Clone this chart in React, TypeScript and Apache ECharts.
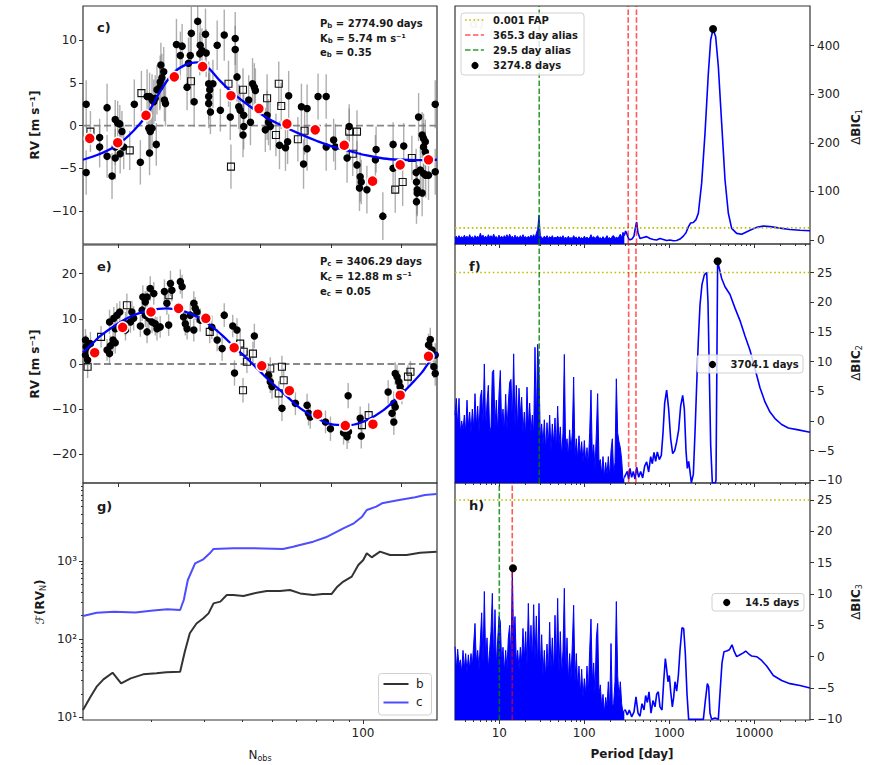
import React, { useEffect, useRef } from 'react';
import * as echarts from 'echarts';

const FONT = 'DejaVu Sans';
const BLUE = '#0000ff';

// ---------- panel c (planet b, phase folded) ----------
const phaseTicks = [0.1, 0.3, 0.5, 0.7, 0.9];
const rvTicksB = [-10, -5, 0, 5, 10];
const rvTicksC = [-20, -10, 0, 10, 20];
const rvRangeB = [-13.86, 14.0];
const rvRangeC = [-26.3, 26.3];

const rvBFilled = [
  [0.009, 2.5, 2.8], [0.009, -5.5, 2.6], [0.047, -1.4, 2.2], [0.047, -2.5, 2.4], [0.068, 2.1, 2.8], [0.068, -3.6, 2.5], [0.082, -5.9, 2.7], [0.091, 0.7, 2.3], [0.098, 0.3, 2.6], [0.104, 0.2, 2.2], [0.11, -0.7, 2.4], [0.091, -2.5, 2.1], [0.091, -3.8, 2.5], [0.105, -3.3, 2.3], [0.115, -2.5, 2.6],
  [0.145, 2.5, 2.9], [0.162, -4.3, 2.6], [0.181, 3.4, 3.2], [0.188, 3.4, 2.8], [0.195, 3.0, 3.0], [0.2, 2.8, 2.6], [0.204, 3.2, 2.7], [0.186, -0.3, 3.1], [0.19, -0.7, 2.8], [0.195, -0.3, 2.4], [0.188, -3.2, 2.6], [0.207, -2.2, 2.5],
  [0.209, 4.2, 2.9], [0.217, 4.5, 2.7], [0.218, 5.1, 3.1], [0.223, 5.6, 2.8], [0.22, 7.1, 2.6], [0.228, 6.3, 2.9], [0.23, 3.0, 2.5], [0.233, 2.6, 2.7],
  [0.264, 9.5, 3.0], [0.28, 9.3, 2.6], [0.275, 8.2, 2.8], [0.294, 4.5, 2.7], [0.298, 7.3, 3.0], [0.306, 10.8, 3.1], [0.303, 8.2, 2.5], [0.314, 2.8, 2.9], [0.324, 12.2, 2.9], [0.331, 9.4, 2.7], [0.336, 8.8, 2.6], [0.33, 8.4, 2.5], [0.346, 10.7, 3.0], [0.348, 8.5, 2.8],
  [0.355, 4.9, 2.6], [0.358, 4.2, 2.5], [0.355, 3.4, 2.7], [0.355, 2.6, 2.9], [0.36, 1.6, 2.6], [0.367, 4.9, 2.8], [0.379, 9.4, 2.9], [0.388, 1.8, 2.5], [0.399, 10.6, 3.0], [0.416, 1.0, 2.7], [0.43, 10.2, 3.1], [0.43, 8.9, 2.8], [0.435, 5.7, 2.9], [0.44, 2.2, 2.6], [0.444, 1.8, 2.8], [0.454, 1.2, 2.5], [0.454, -0.1, 2.7], [0.452, -1.1, 2.6],
  [0.468, 3.0, 2.9], [0.473, 0.4, 2.7], [0.479, 4.9, 3.0], [0.484, 4.5, 2.8], [0.487, 4.1, 2.6], [0.52, 1.2, 2.9], [0.524, 0.4, 2.7], [0.529, -0.1, 2.8], [0.515, -0.5, 2.6], [0.555, -2.3, 2.8], [0.572, -2.6, 2.7], [0.581, 3.5, 2.9], [0.578, -1.9, 2.6],
  [0.617, 2.2, 2.7], [0.623, -4.5, 2.9], [0.633, -2.7, 2.6], [0.633, 2.0, 2.8], [0.664, 3.4, 2.7], [0.687, 3.4, 2.6], [0.687, -2.5, 2.8], [0.708, -1.7, 2.5], [0.713, -2.5, 2.7], [0.752, -0.1, 2.6], [0.746, -3.8, 2.9], [0.774, -4.6, 2.8], [0.783, -6.0, 2.9], [0.786, -6.6, 2.6], [0.781, -7.3, 2.7], [0.802, -7.5, 2.8],
  [0.828, -2.8, 2.7], [0.826, -4.0, 2.9], [0.847, -10.6, 2.8], [0.876, -2.2, 2.6], [0.876, -5.0, 2.9], [0.906, -2.4, 2.7], [0.941, -5.5, 2.8], [0.942, -6.6, 2.6], [0.944, -7.5, 2.9], [0.944, -7.9, 2.7], [0.942, -8.9, 2.6], [0.948, 1.0, 2.8], [0.958, -1.1, 2.7], [0.962, -1.5, 2.9], [0.967, -1.9, 2.6], [0.962, -2.5, 2.8], [0.967, -3.1, 2.5], [0.953, -5.2, 2.7], [0.962, -5.6, 2.8], [0.968, -5.8, 2.6], [0.976, -5.8, 2.9], [0.958, -7.9, 2.7], [0.995, 2.5, 2.8], [0.995, -5.4, 2.7],
];
const rvBOpen = [
  [0.021, -0.7, 2.4], [0.132, -2.9, 2.3], [0.165, 3.8, 2.6], [0.305, 5.2, 2.8], [0.411, 4.9, 2.7], [0.418, -4.8, 2.6], [0.452, 4.2, 2.5], [0.52, 3.2, 2.8], [0.553, 4.9, 2.6], [0.56, 2.3, 2.7], [0.545, -1.1, 2.5], [0.607, -1.6, 2.6], [0.626, -0.6, 2.8], [0.752, -0.7, 2.7], [0.774, -0.7, 2.5], [0.762, -3.3, 2.6], [0.882, -7.5, 2.7], [0.903, -6.6, 2.8], [0.929, -3.8, 2.6],
];
const rvBBinned = [
  [0.019, -1.5], [0.098, -2.0], [0.178, 1.2], [0.258, 5.7], [0.338, 6.9], [0.418, 3.5], [0.497, 2.0], [0.576, 0.2], [0.656, -0.5], [0.738, -2.3], [0.818, -6.5], [0.896, -4.6], [0.976, -4.0],
];
const rvBModel = [
  [0, -4.0], [0.049, -3.3], [0.096, -2.3], [0.143, -0.6], [0.181, 1.3], [0.218, 4.0], [0.256, 6.2], [0.294, 7.2], [0.322, 7.4], [0.35, 6.9], [0.388, 5.2], [0.426, 3.7], [0.473, 2.2], [0.52, 0.9], [0.567, -0.1], [0.614, -1.0], [0.661, -1.8], [0.708, -2.5], [0.755, -3.0], [0.802, -3.5], [0.849, -3.85], [0.896, -4.0], [0.944, -4.05], [1, -4.0],
];

// ---------- panel e (planet c, phase folded) ----------
const rvCFilled = [
  [0.007, 5.3, 2.4], [0.009, 3.8, 2.6], [0.007, 2.0, 2.3], [0.013, 0.9, 2.5], [0.016, 3.1, 2.2], [0.021, 4.5, 2.6],
  [0.068, 3.1, 2.4], [0.075, 2.3, 2.5], [0.077, 4.0, 2.3], [0.085, 5.3, 2.6], [0.091, 4.7, 2.4], [0.075, 9.3, 2.7], [0.087, 10.1, 2.5], [0.096, 10.8, 2.6], [0.104, 11.5, 2.4], [0.091, 7.8, 2.5],
  [0.12, 8.9, 2.6], [0.134, 9.3, 2.4], [0.143, 10.1, 2.7], [0.138, 11.5, 2.5], [0.12, 7.5, 2.3],
  [0.169, 14.8, 2.6], [0.176, 13.7, 2.4], [0.181, 14.8, 2.5], [0.19, 16.7, 2.7], [0.2, 15.6, 2.5], [0.167, 11.9, 2.4], [0.176, 10.8, 2.6], [0.186, 10.1, 2.3], [0.195, 9.3, 2.5], [0.204, 8.9, 2.6], [0.162, 8.4, 2.4], [0.181, 7.1, 2.5], [0.209, 7.8, 2.6], [0.218, 8.2, 2.4],
  [0.23, 16.0, 2.7], [0.237, 13.4, 2.5], [0.247, 17.8, 2.8], [0.251, 16.3, 2.5], [0.275, 18.2, 2.7], [0.28, 17.1, 2.6], [0.242, 8.6, 2.4],
  [0.284, 10.4, 2.5], [0.289, 8.9, 2.6], [0.294, 7.8, 2.4], [0.303, 10.8, 2.5], [0.313, 13.4, 2.7], [0.317, 12.3, 2.5], [0.322, 11.5, 2.4], [0.331, 9.7, 2.6], [0.313, 7.5, 2.5],
  [0.364, 8.1, 2.6], [0.379, 5.3, 2.5], [0.393, 3.4, 2.7], [0.399, 10.8, 2.6], [0.423, 8.4, 2.5], [0.435, 7.5, 2.6], [0.428, -2.0, 2.8], [0.484, 6.2, 2.7],
  [0.524, -2.5, 2.6], [0.529, -3.9, 2.5], [0.534, -5.0, 2.7], [0.562, -9.8, 2.8], [0.6, -8.7, 2.6], [0.633, -9.1, 2.5], [0.637, -10.9, 2.7], [0.642, -11.7, 2.6], [0.685, -12.8, 2.5], [0.699, -14.3, 2.7],
  [0.749, -7.0, 2.8], [0.736, -15.2, 2.6], [0.746, -16.1, 2.7], [0.75, -15.0, 2.5], [0.783, -12.0, 2.6], [0.786, -15.9, 2.8],
  [0.862, -6.2, 2.6], [0.882, -2.1, 2.5], [0.887, -2.8, 2.7], [0.892, -3.9, 2.6], [0.896, -5.0, 2.5], [0.901, -6.2, 2.7], [0.878, -8.7, 2.6], [0.882, -9.5, 2.8], [0.873, -10.9, 2.7], [0.878, -12.8, 2.9],
  [0.981, 5.4, 2.6], [0.976, 4.2, 2.5], [0.986, 3.1, 2.7], [0.995, 2.0, 2.6], [0.991, -0.6, 2.5], [0.995, -2.1, 2.7],
];
const rvCOpen = [
  [0.013, -0.6, 2.5], [0.051, 6.0, 2.4], [0.124, 13.0, 2.6], [0.242, 15.2, 2.7], [0.358, 7.1, 2.5], [0.444, 4.5, 2.6], [0.454, 2.7, 2.4], [0.463, 0.5, 2.5], [0.452, -5.8, 2.7], [0.48, 2.3, 2.6], [0.529, -1.0, 2.5], [0.562, -0.6, 2.4], [0.567, -3.6, 2.6], [0.553, -6.5, 2.7], [0.788, -13.5, 2.5], [0.807, -11.3, 2.6], [0.925, -1.7, 2.4], [0.918, -2.8, 2.5],
];
const rvCBinned = [
  [0.033, 2.5], [0.112, 8.1], [0.192, 11.5], [0.27, 12.3], [0.347, 10.1], [0.427, 3.6], [0.505, -0.4], [0.583, -5.9], [0.663, -11.1], [0.741, -13.6], [0.819, -13.3], [0.896, -6.9], [0.976, 1.7],
];
const rvCModel = [
  [0, 2.6], [0.025, 4.4], [0.049, 6.2], [0.096, 8.8], [0.143, 10.8], [0.19, 11.9], [0.237, 12.3], [0.284, 11.7], [0.331, 10.1], [0.379, 7.3], [0.426, 3.9], [0.473, 0.5], [0.52, -3.2], [0.567, -6.5], [0.614, -9.8], [0.661, -12.0], [0.708, -13.4], [0.755, -13.5], [0.802, -12.4], [0.849, -10.2], [0.896, -6.9], [0.929, -4.3], [0.958, -1.8], [0.976, 0.2], [1, 2.4],
];

// ---------- panel g : F(RV_N) vs N_obs ----------
const nRange = [11.9, 175.5];
const fRange = [9.26, 9940];
const nMajor = [100];
const nMinor = [20, 30, 40, 50, 60, 70, 80, 90];
const fMajor = [10, 100, 1000];
const fMinor = [20, 30, 40, 50, 60, 70, 80, 90, 200, 300, 400, 500, 600, 700, 800, 900, 2000, 3000, 4000, 5000, 6000, 7000, 8000, 9000];
const fB = [
  [11.9, 12.4], [12.6, 18.4], [13.2, 24.7], [13.9, 30.6], [14.9, 37.3], [15.9, 27.2], [17.1, 31.5], [18.8, 35.5], [20.8, 36.6], [22.4, 37.7], [24.9, 38.4], [25.8, 69], [26.8, 119], [28.2, 159], [29.7, 185], [30.9, 214], [32.1, 287], [33.8, 302], [35.5, 367], [37.3, 367], [40.3, 357], [43.5, 385], [48.1, 413], [53.2, 413], [57.4, 426], [62, 385], [68.5, 367], [73.6, 379], [78.8, 379], [81.9, 460], [86.1, 545], [91.8, 631], [96.5, 889], [100.2, 1030], [102.9, 1254], [106.8, 1114], [113.8, 1316], [122.8, 1194], [139.3, 1194], [154.3, 1278], [175, 1316],
];
const fC = [
  [11.9, 198], [13.2, 218], [15.1, 225], [17.7, 220], [20.3, 232], [22.6, 241], [24.9, 236], [25.6, 317], [26.4, 571], [27.9, 933], [29.7, 1050], [31.2, 1254], [32.1, 1426], [37.3, 1453], [43.5, 1453], [54.4, 1426], [58.8, 1525], [61.9, 1603], [68.5, 1767], [75.4, 2009], [86.1, 2618], [93.3, 3035], [99.3, 3690], [102.9, 4490], [110.6, 4950], [115.5, 5470], [131.6, 6030], [148.7, 6520], [160, 6980], [175, 7195],
];

// ---------- periodograms (d, f, h) ----------
const periodRange = [3.012, 45220];
const pMajor = [10, 100, 1000, 10000];
const pMinor = [4, 5, 6, 7, 8, 9, 20, 30, 40, 50, 60, 70, 80, 90, 200, 300, 400, 500, 600, 700, 800, 900, 2000, 3000, 4000, 5000, 6000, 7000, 8000, 9000, 20000, 30000, 40000];
const bic1Ticks = [0, 100, 200, 300, 400];
const bicTicks = [-10, -5, 0, 5, 10, 15, 20, 25];
const bic1Range = [-8.2, 481.5];
const bic2Range = [-10.45, 29.8];
const bic3Range = [-10.1, 27.7];
const fapLevel = 25;

const densePeriods = [
  3.012, 3.123, 3.238, 3.357, 3.48, 3.608, 3.741, 3.879, 4.021, 4.169,
  4.322, 4.481, 4.646, 4.817, 4.994, 5.178, 5.368, 5.566, 5.77, 5.983,
  6.203, 6.431, 6.667, 6.912, 7.167, 7.43, 7.703, 7.987, 8.28, 8.585,
  8.9, 9.228, 9.567, 9.919, 10.28, 10.66, 11.05, 11.46, 11.88, 12.32,
  12.77, 13.24, 13.73, 14.23, 14.76, 15.3, 15.86, 16.45, 17.05, 17.68,
  18.33, 19.0, 19.7, 20.43, 21.18, 21.96, 22.76, 23.6, 24.47, 25.37,
  26.3, 27.27, 28.27, 29.31, 30.39, 31.51, 32.66, 33.87, 35.11, 36.4,
  37.75, 39.13, 40.57, 42.06, 43.61, 45.22, 46.88, 48.61, 50.39, 52.24,
  54.17, 56.16, 58.22, 60.37, 62.59, 64.89, 67.27, 69.74, 72.31, 74.97,
  77.73, 80.58, 83.55, 86.61, 89.8, 93.11, 96.54, 100.1, 103.8, 107.6,
  111.5, 115.6, 119.9, 124.3, 128.9, 133.6, 138.6, 143.6, 148.9, 154.4,
  160.1, 166.0, 172.1, 178.4, 185.0, 191.8, 198.8, 206.2, 213.7, 221.6,
  229.7, 238.2, 246.9, 256.0, 265.5, 275.2, 285.3, 295.8,
];
const bic1Dense = [
  5, 8, 3, 9, 4, 7, 3, 10, 4, 8,
  3, 11, 4, 7, 3, 9, 5, 8, 4, 14,
  6, 10, 4, 8, 3, 11, 5, 9, 4, 12,
  5, 7, 3, 10, 4, 8, 3, 9, 5, 11,
  4, 12, 5, 8, 3, 10, 5, 7, 3, 9,
  4, 11, 5, 7, 3, 8, 4, 10, 5, 11,
  4, 14, 22, 51, 9, 5, 3, 8, 4, 9,
  3, 7, 4, 9, 3, 6, 4, 8, 3, 7,
  4, 9, 3, 6, 2, 8, 3, 5, 3, 9,
  4, 6, 2, 7, 3, 5, 2, 8, 3, 6,
  3, 5, 11, 4, 7, 3, 6, 9, 3, 5,
  2, 7, 3, 4, 9, 3, 5, 2, 8, 9,
  3, 6, 4, 7, 12, 5, 16, 9,
];
const bic2Dense = [
  1.0, 3.8, -1.0, 3.8, -2.0, 0.0, -1.5, 1.0, -2.0, 3.5,
  -1.0, 1.5, -2.0, 2.0, -1.5, 4.6, -1.0, 2.5, -2.0, 4.0,
  5.2, -0.5, 9.6, -1.5, 3.0, 6.0, -2.0, -1.0, 8.2, 8.6,
  -1.0, 3.5, -2.0, 4.5, 8.5, -1.0, 2.0, -2.0, 4.5, -1.5,
  3.0, 6.5, 7.0, -0.5, 11.3, -1.0, 6.0, -1.5, 5.5, 1.0,
  4.0, -2.0, 1.5, -2.5, 5.7, -1.0, 3.0, -2.0, 1.0, -2.5,
  12.4, -1.0, 12.9, 8.0, -3.0, -0.5, -4.0, 0.2, -5.0, -0.3,
  -4.0, 1.0, -5.0, -0.5, -4.0, 0.5, -5.0, 2.5, -4.0, -1.0,
  -6.0, -2.0, 11.2, -5.0, -3.0, -6.0, -1.5, -5.0, -2.0, 7.4,
  -6.0, -3.0, -6.5, -2.5, -6.0, -3.5, -7.0, -3.3, -7.0, -4.5,
  -7.5, -2.0, 5.2, -6.0, -4.0, -8.0, -2.0, 4.6, -7.0, -6.5,
  -9.0, -6.0, -9.5, -7.0, -9.0, -6.0, -9.5, -5.0, -3.0, -9.0,
  -7.0, 7.1, -2.0, -3.5, -4.5, -6.5, -10.0, -9.5,
];
const bic3Dense = [
  1.6, -2.0, 1.2, -1.5, -0.5, -2.5, 1.0, -2.0, 0.5, -2.5,
  0.3, -2.0, 0.5, -1.5, 2.0, 5.3, -1.0, 1.0, -2.0, 2.5,
  7.0, -1.0, 10.4, -0.5, 3.0, -2.0, 1.0, 4.0, 10.1, -1.0,
  7.5, -1.5, 2.5, 6.4, 5.6, -1.0, 1.5, -2.5, 1.0, -2.0,
  3.0, 5.0, -1.0, 14.1, 2.0, 6.4, -1.0, 1.0, -2.0, 1.5,
  -1.0, 4.5, -0.5, 4.0, -1.5, 8.5, 0.0, 5.0, -1.0, 8.3,
  -0.5, 6.5, -2.0, 8.5, -2.0, 3.5, -3.0, 1.0, -3.5, 2.0,
  -3.0, 5.5, -2.0, 3.0, -3.0, 6.6, -2.0, 9.3, -2.5, 4.0,
  -3.0, 1.0, 10.9, -3.0, 3.0, -4.0, 0.5, -3.5, 2.0, 8.2,
  -4.0, 0.5, -5.0, -1.5, -6.0, -2.0, -6.5, -3.5, -6.0, -1.5,
  -6.0, 1.0, 6.0, -4.0, -1.0, -6.0, 3.0, 5.3, -6.0, -4.5,
  -8.0, -6.0, -9.0, -6.5, -8.0, -4.0, -8.5, 2.1, -8.0, -7.5,
  -4.0, 8.8, -3.0, -6.5, -4.0, -7.5, -9.0, -8.5,
];
const bic1Tail = [
  [306, 18.5], [321, 10], [333, 2], [345, 0.5], [364, 2], [384, 8], [399, 25], [413, 37], [428, 15], [452, 3], [495, 5], [542, 7], [593, 3], [649, 1], [710, 0], [777, 3], [851, 1], [931, -1], [1019, 0], [1116, -1.5], [1221, -1], [1336, 2], [1463, 8], [1572, 15], [1675, 27], [1784, 35], [1918, 36], [2061, 42], [2196, 55], [2403, 117], [2632, 220], [2880, 343], [3070, 412], [3274.8, 434], [3512, 418], [3775, 357], [4132, 240], [4522, 124], [4950, 55], [5418, 24], [6203, 13.7], [7103, 11.7], [8903, 20], [10660, 26], [12770, 28.8], [15300, 27.5], [20060, 24.5], [26300, 21.5], [34480, 20], [45220, 19],
];
const bic2Tail = [
  [301.2, -9.5], [320.8, -8.5], [332.6, -9.8], [344.8, -8.0], [360.7, -9.5], [377.5, -8.5], [394.9, -9.8], [413.2, -7.8], [436.2, -9.5], [460.4, -8.5], [486.1, -9.6], [513.1, -7.6], [541.7, -6.9], [571.9, -8.6], [603.8, -6.0], [631.6, -7.2], [660.8, -5.3], [691, -6.8], [722.9, -5.2], [763.1, -6.5], [805.6, -5.8], [843.3, -2.0], [882.3, 3.0], [931, 5.2], [982.8, 2.0], [1037.5, -3.0], [1096, -5.5], [1157, -5.0], [1221, -3.5], [1289, -1.5], [1360, 2.5], [1437, 4.3], [1503, 2.0], [1572, -5.0], [1630, -8.0], [1690, -6.8], [1752, -8.5], [1816, -10.4], [1918, -9.0], [2006, -2.0], [2099, 6.0], [2196, 13.6], [2297, 19.5], [2425, 23.0], [2584, 24.6], [2752, 25.0], [2853, 20.0], [2958, 8.0], [3067, -4.0], [3208, -10.4], [3480, -10.4], [3543, -10.0], [3640, 12], [3704.1, 26.9], [4131, 24.0], [4522, 22.6], [5178, 21.3], [5929, 19.0], [6789, 16.9], [7774, 14.3], [8903, 11.9], [10190, 8.8], [11667, 5.6], [13360, 3.2], [15300, 1.5], [17524, 0.4], [20990, -0.6], [25138, -1.2], [32960, -1.5], [45220, -1.9],
];
const bic3Tail = [
  [303.9, -8.5], [320.8, -9.3], [338.6, -8.5], [360.7, -9.6], [384.4, -8.8], [405.8, -6.4], [428.4, -9.0], [452.2, -9.5], [477.3, -7.5], [503.9, -8.5], [527.2, -6.2], [551.6, -7.3], [577.1, -5.6], [609.3, -9.0], [643.2, -7.0], [678.9, -8.0], [710, -6.0], [742.8, -5.6], [777, -8.0], [820.3, -8.5], [858.7, -4.0], [898.6, -0.3], [931, -2.0], [965.3, -4.0], [1000.8, -3.0], [1037.5, -5.5], [1086, -8.0], [1126, -6.5], [1167, -4.0], [1221, -5.5], [1278, -3.0], [1336, 1.0], [1410, 4.6], [1476, 4.5], [1544, 0.5], [1616, -6.0], [1690, -10.0], [1918, -10.0], [2297, -10.0], [2515, -10.0], [2655, -7.0], [2803, -4.3], [2905, -4.8], [3012, -9.0], [3150, -10.0], [3447, -9.8], [3774, -10.0], [3985, -5.0], [4169, -1.0], [4401, 0.8], [4731, 0.9], [5085, 1.1], [5466, 1.9], [5823, 0.8], [6203, 0.0], [6789, 0.3], [7431, 0.6], [7915, 0.9], [8510, 0.5], [9314, 0.1], [10660, 0.0], [12207, -0.6], [13980, -1.5], [16750, -3.0], [20990, -3.8], [26300, -4.3], [34480, -4.6], [45220, -5.0],
];
const peak1 = [3274.8, 434];
const peak2 = [3704.1, 26.9];
const peak3 = [14.5, 14.1];
const greenAlias1 = [29.5];
const redAlias1 = [328.6, 411.2];
const greenAlias2 = [29.5];
const redAlias2 = [332.5, 405.3];
const greenAlias3 = [10.0];
const redAlias3 = [14.2];

// ---------- helpers ----------
const lg = (v: number) => Math.log10(v);
const minus = (v: number) => (v < 0 ? '\u2212' + Math.abs(v) : String(v));
const SUP: Record<number, string> = { 1: '\u00b9', 2: '\u00b2', 3: '\u00b3', 4: '\u2074' };
const TXT = '#1a1a1a';
const labelStyle = { color: '#222', fontFamily: FONT, fontSize: 12 };
const tickLine = { color: '#333', width: 1 };
const RED = 'rgba(255,0,0,0.65)';
const GREEN = 'rgba(0,128,0,0.8)';
const YELLOW = '#bfbf00';

function axis(gridIndex: number, min: number, max: number, extra: any) {
  return {
    type: 'value', gridIndex, min, max, scale: true,
    axisLine: { show: false, onZero: false },
    splitLine: { show: false },
    ...extra,
  };
}

function errorBars(data: number[][], xi: number, yi: number) {
  return {
    type: 'custom', xAxisIndex: xi, yAxisIndex: yi, data, z: 2, silent: true,
    encode: { x: 0, y: 1 },
    renderItem: (params: any, api: any) => {
      const x = api.value(0), y = api.value(1), e = api.value(2);
      const a = api.coord([x, y - e]);
      const b = api.coord([x, y + e]);
      const cs = params.coordSys;
      const clamp = (v: number) => Math.max(cs.y, Math.min(cs.y + cs.height, v));
      return {
        type: 'line',
        shape: { x1: a[0], y1: clamp(a[1]), x2: b[0], y2: clamp(b[1]) },
        style: { stroke: 'rgba(120,120,120,0.6)', lineWidth: 1.4 },
      };
    },
  };
}

function rvSeries(filled: number[][], open: number[][], binned: number[][], model: number[][], xi: number, yi: number) {
  return [
    { type: 'line', xAxisIndex: xi, yAxisIndex: yi, data: [[0, 0], [1, 0]], symbol: 'none', z: 1, silent: true,
      lineStyle: { color: '#888', width: 1.8, type: [7, 3.5] } },
    errorBars(filled, xi, yi),
    errorBars(open, xi, yi),
    { type: 'scatter', xAxisIndex: xi, yAxisIndex: yi, data: open, symbol: 'rect', symbolSize: 7, z: 3, silent: true,
      itemStyle: { color: 'rgba(255,255,255,0)', borderColor: '#111', borderWidth: 1.1, opacity: 1 } },
    { type: 'scatter', xAxisIndex: xi, yAxisIndex: yi, data: filled, symbol: 'circle', symbolSize: 7.5, z: 3, silent: true,
      itemStyle: { color: '#000', opacity: 1 } },
    { type: 'line', xAxisIndex: xi, yAxisIndex: yi, data: model, symbol: 'none', smooth: 0.35, z: 4, silent: true,
      lineStyle: { color: BLUE, width: 2.3 } },
    { type: 'scatter', xAxisIndex: xi, yAxisIndex: yi, data: binned, symbol: 'circle', symbolSize: 11, z: 5, silent: true,
      itemStyle: { color: '#ff0000', borderColor: '#fff', borderWidth: 1.5, opacity: 1 } },
  ];
}

function periodSeries(dense: number[], tail: number[][], peak: number[], greens: number[], reds: number[], yr: number[], xi: number, yi: number) {
  const denseData = densePeriods.map((p, i) => [lg(p), dense[i]]);
  const tailData = [[lg(densePeriods[densePeriods.length - 1]), dense[dense.length - 1]], ...tail.map(([p, v]) => [lg(p), v])];
  const out: any[] = [
    { type: 'line', xAxisIndex: xi, yAxisIndex: yi, data: denseData, symbol: 'none', z: 3, silent: true,
      lineStyle: { color: BLUE, width: 1 }, areaStyle: { color: BLUE, opacity: 1, origin: 'start' } },
    { type: 'line', xAxisIndex: xi, yAxisIndex: yi, data: tailData, symbol: 'none', z: 3, silent: true,
      lineStyle: { color: BLUE, width: 1.6 } },
    { type: 'line', xAxisIndex: xi, yAxisIndex: yi, data: [[lg(periodRange[0]), fapLevel], [lg(periodRange[1]), fapLevel]], symbol: 'none', z: 4, silent: true,
      lineStyle: { color: YELLOW, width: 1.6, type: [1.6, 2.6] } },
  ];
  greens.forEach((p) => out.push({ type: 'line', xAxisIndex: xi, yAxisIndex: yi, data: [[lg(p), yr[0]], [lg(p), yr[1]]], symbol: 'none', z: 4, silent: true,
    lineStyle: { color: GREEN, width: 1.6, type: [5.5, 2.4] } }));
  reds.forEach((p) => out.push({ type: 'line', xAxisIndex: xi, yAxisIndex: yi, data: [[lg(p), yr[0]], [lg(p), yr[1]]], symbol: 'none', z: 4, silent: true,
    lineStyle: { color: RED, width: 1.6, type: [5.5, 2.4] } }));
  out.push({ type: 'scatter', xAxisIndex: xi, yAxisIndex: yi, data: [[lg(peak[0]), peak[1]]], symbol: 'circle', symbolSize: 8, z: 6, silent: true,
    itemStyle: { color: '#000', opacity: 1 } });
  return out;
}

function periodXAxes(gridIndex: number, showLabels: boolean) {
  const r = [lg(periodRange[0]), lg(periodRange[1])];
  return [
    axis(gridIndex, r[0], r[1], {
      position: 'bottom',
      axisTick: { show: true, length: 4, customValues: pMajor.map(lg), lineStyle: tickLine },
      axisLabel: showLabels
        ? { show: true, customValues: pMajor.map(lg), margin: 7, formatter: (v: number) => String(Math.round(Math.pow(10, v))), ...labelStyle }
        : { show: false },
    }),
    axis(gridIndex, r[0], r[1], {
      position: 'bottom',
      axisTick: { show: true, length: 2, customValues: pMinor.map(lg), lineStyle: tickLine },
      axisLabel: { show: false },
    }),
  ];
}

function rightYAxis(gridIndex: number, range: number[], ticks: number[]) {
  return axis(gridIndex, range[0], range[1], {
    position: 'right',
    axisTick: { show: true, length: 4, customValues: ticks, lineStyle: tickLine },
    axisLabel: { show: true, customValues: ticks, margin: 7, formatter: minus, ...labelStyle },
  });
}

// text helpers for graphic
const bold = (size: number) => ({ fill: TXT, fontFamily: FONT, fontWeight: 'bold', fontSize: size });
function richText(x: number, y: number, text: string, rich: any, extra: any = {}) {
  return { type: 'text', x, y, z: 100, silent: true, ...extra,
    style: { text, rich, align: extra.align || 'left', verticalAlign: 'middle', fill: TXT, fontFamily: FONT } };
}
const annRich = {
  n: { ...bold(10), lineHeight: 12 },
  s: { ...bold(7), lineHeight: 7, verticalAlign: 'bottom' },
};

function buildOption() {
  const grids = [
    { left: 83, top: 6, width: 354, height: 238 },
    { left: 83, top: 245, width: 354, height: 238 },
    { left: 83, top: 483, width: 354, height: 237 },
    { left: 455, top: 6, width: 355, height: 238 },
    { left: 455, top: 244, width: 355, height: 239 },
    { left: 455, top: 483, width: 355, height: 237 },
  ].map((g) => ({ ...g, show: true, borderColor: '#333', borderWidth: 1.2, backgroundColor: 'rgba(0,0,0,0)', containLabel: false, outerBoundsMode: 'none' }));

  const phaseAxis = (gi: number) => axis(gi, 0, 1, {
    position: 'bottom',
    axisTick: { show: true, length: 4, customValues: phaseTicks, lineStyle: tickLine },
    axisLabel: { show: false },
  });

  const xAxis = [
    phaseAxis(0), // 0
    phaseAxis(1), // 1
    axis(2, lg(nRange[0]), lg(nRange[1]), { // 2
      position: 'bottom',
      axisTick: { show: true, length: 4, customValues: nMajor.map(lg), lineStyle: tickLine },
      axisLabel: { show: true, customValues: nMajor.map(lg), margin: 7, formatter: (v: number) => String(Math.round(Math.pow(10, v))), ...labelStyle },
    }),
    axis(2, lg(nRange[0]), lg(nRange[1]), { // 3
      position: 'bottom',
      axisTick: { show: true, length: 2, customValues: nMinor.map(lg), lineStyle: tickLine },
      axisLabel: { show: false },
    }),
    ...periodXAxes(3, false), // 4,5
    ...periodXAxes(4, false), // 6,7
    ...periodXAxes(5, true), // 8,9
  ];

  const yAxis = [
    axis(0, rvRangeB[0], rvRangeB[1], { // 0
      position: 'left',
      axisTick: { show: true, length: 4, customValues: rvTicksB, lineStyle: tickLine },
      axisLabel: { show: true, customValues: rvTicksB, margin: 6, formatter: minus, ...labelStyle },
    }),
    axis(1, rvRangeC[0], rvRangeC[1], { // 1
      position: 'left',
      axisTick: { show: true, length: 4, customValues: rvTicksC, lineStyle: tickLine },
      axisLabel: { show: true, customValues: rvTicksC, margin: 6, formatter: minus, ...labelStyle },
    }),
    axis(2, lg(fRange[0]), lg(fRange[1]), { // 2
      position: 'left',
      axisTick: { show: true, length: 4, customValues: fMajor.map(lg), lineStyle: tickLine },
      axisLabel: { show: true, customValues: fMajor.map(lg), margin: 6, formatter: (v: number) => '10' + SUP[Math.round(v)], ...labelStyle },
    }),
    axis(2, lg(fRange[0]), lg(fRange[1]), { // 3
      position: 'left',
      axisTick: { show: true, length: 2, customValues: fMinor.map(lg), lineStyle: tickLine },
      axisLabel: { show: false },
    }),
    rightYAxis(3, bic1Range, bic1Ticks), // 4
    rightYAxis(4, bic2Range, bicTicks), // 5
    rightYAxis(5, bic3Range, bicTicks), // 6
  ];

  const series: any[] = [
    ...rvSeries(rvBFilled, rvBOpen, rvBBinned, rvBModel, 0, 0),
    ...rvSeries(rvCFilled, rvCOpen, rvCBinned, rvCModel, 1, 1),
    { type: 'line', xAxisIndex: 2, yAxisIndex: 2, data: fB.map(([n, f]) => [lg(n), lg(f)]), symbol: 'none', silent: true, z: 3,
      lineStyle: { color: '#333333', width: 2 } },
    { type: 'line', xAxisIndex: 2, yAxisIndex: 2, data: fC.map(([n, f]) => [lg(n), lg(f)]), symbol: 'none', silent: true, z: 3,
      lineStyle: { color: '#4d4dff', width: 2 } },
    ...periodSeries(bic1Dense, bic1Tail, peak1, greenAlias1, redAlias1, bic1Range, 4, 4),
    ...periodSeries(bic2Dense, bic2Tail, peak2, greenAlias2, redAlias2, bic2Range, 6, 5),
    ...periodSeries(bic3Dense, bic3Tail, peak3, greenAlias3, redAlias3, bic3Range, 8, 6),
  ];

  const rot = Math.PI / 2;
  const graphic: any[] = [
    // panel letters
    { type: 'text', x: 97, y: 27, z: 100, silent: true, style: { text: 'c)', ...bold(13), verticalAlign: 'middle' } },
    { type: 'text', x: 97, y: 266, z: 100, silent: true, style: { text: 'e)', ...bold(13), verticalAlign: 'middle' } },
    { type: 'text', x: 97, y: 506, z: 100, silent: true, style: { text: 'g)', ...bold(13), verticalAlign: 'middle' } },
    { type: 'text', x: 469, y: 23, z: 100, silent: true, style: { text: 'd)', ...bold(13), fill: '#cfcfcf', verticalAlign: 'middle' } },
    { type: 'text', x: 469, y: 266, z: 100, silent: true, style: { text: 'f)', ...bold(13), verticalAlign: 'middle' } },
    { type: 'text', x: 469, y: 505, z: 100, silent: true, style: { text: 'h)', ...bold(13), verticalAlign: 'middle' } },

    // annotations c
    richText(320, 23, '{n|P}{s|b}{n| = 2774.90 days}', annRich),
    richText(320, 38, '{n|K}{s|b}{n| = 5.74 m s\u207b\u00b9}', annRich),
    richText(320, 52.5, '{n|e}{s|b}{n| = 0.35}', annRich),
    // annotations e
    richText(320, 261, '{n|P}{s|c}{n| = 3406.29 days}', annRich),
    richText(320, 276, '{n|K}{s|c}{n| = 12.88 m s\u207b\u00b9}', annRich),
    richText(320, 291, '{n|e}{s|c}{n| = 0.05}', annRich),

    // y axis names left
    { type: 'text', x: 35, y: 125, rotation: rot, z: 100, silent: true,
      style: { text: 'RV [m s\u207b\u00b9]', ...bold(12), align: 'center', verticalAlign: 'middle' } },
    { type: 'text', x: 35, y: 364, rotation: rot, z: 100, silent: true,
      style: { text: 'RV [m s\u207b\u00b9]', ...bold(12), align: 'center', verticalAlign: 'middle' } },
    { type: 'text', x: 40, y: 602, rotation: rot, z: 100, silent: true,
      style: { text: '{f|\u2131}{b|(RV}{s|N}{b|)}', align: 'center', verticalAlign: 'middle',
        rich: { f: { fill: TXT, fontFamily: FONT, fontSize: 12, lineHeight: 14 }, b: { ...bold(12), lineHeight: 14 }, s: { fill: TXT, fontFamily: FONT, fontSize: 8, lineHeight: 8, verticalAlign: 'bottom' } } } },

    // right axis names
    ...[[127, '1'], [363, '2'], [602, '3']].map(([y, k]) => ({
      type: 'text', x: 856, y, rotation: rot, z: 100, silent: true,
      style: { text: '{d|\u0394}{b|BIC}{s|' + k + '}', align: 'center', verticalAlign: 'middle',
        rich: { d: { fill: TXT, fontFamily: FONT, fontSize: 12, lineHeight: 14 }, b: { ...bold(12), lineHeight: 14 }, s: { fill: TXT, fontFamily: FONT, fontSize: 8, lineHeight: 8, verticalAlign: 'bottom' } } },
    })),

    // x axis names
    { type: 'text', x: 260, y: 755, z: 100, silent: true,
      style: { text: '{n|N}{s|obs}', align: 'center', verticalAlign: 'middle',
        rich: { n: { fill: TXT, fontFamily: FONT, fontSize: 12, lineHeight: 14 }, s: { fill: TXT, fontFamily: FONT, fontSize: 8, lineHeight: 8, verticalAlign: 'bottom' } } } },
    { type: 'text', x: 632, y: 754, z: 100, silent: true,
      style: { text: 'Period [day]', ...bold(12), align: 'center', verticalAlign: 'middle' } },

    // legend d
    { type: 'rect', z: 100, silent: true, shape: { x: 461, y: 13, width: 123, height: 62, r: 3 },
      style: { fill: 'rgba(255,255,255,0.8)', stroke: '#d0d0d0', lineWidth: 1 } },
    { type: 'line', z: 101, silent: true, shape: { x1: 465, y1: 20, x2: 484, y2: 20 }, style: { stroke: YELLOW, lineWidth: 1.6, lineDash: [1.6, 2.6] } },
    { type: 'line', z: 101, silent: true, shape: { x1: 465, y1: 35, x2: 484, y2: 35 }, style: { stroke: RED, lineWidth: 1.6, lineDash: [5.5, 2.4] } },
    { type: 'line', z: 101, silent: true, shape: { x1: 465, y1: 50, x2: 484, y2: 50 }, style: { stroke: GREEN, lineWidth: 1.6, lineDash: [5.5, 2.4] } },
    { type: 'circle', z: 101, silent: true, shape: { cx: 475, cy: 65.5, r: 3.6 }, style: { fill: '#000' } },
    { type: 'text', x: 493, y: 20, z: 101, silent: true, style: { text: '0.001 FAP', ...bold(10), verticalAlign: 'middle' } },
    { type: 'text', x: 493, y: 35, z: 101, silent: true, style: { text: '365.3 day alias', ...bold(10), verticalAlign: 'middle' } },
    { type: 'text', x: 493, y: 50, z: 101, silent: true, style: { text: '29.5 day alias', ...bold(10), verticalAlign: 'middle' } },
    { type: 'text', x: 493, y: 65.5, z: 101, silent: true, style: { text: '3274.8 days', ...bold(10), verticalAlign: 'middle' } },

    // legend f
    { type: 'rect', z: 100, silent: true, shape: { x: 697, y: 355, width: 106, height: 18, r: 3 },
      style: { fill: 'rgba(255,255,255,0.8)', stroke: '#d0d0d0', lineWidth: 1 } },
    { type: 'circle', z: 101, silent: true, shape: { cx: 712.5, cy: 364.5, r: 3.6 }, style: { fill: '#000' } },
    { type: 'text', x: 730.5, y: 364.5, z: 101, silent: true, style: { text: '3704.1 days', ...bold(10), verticalAlign: 'middle' } },

    // legend h
    { type: 'rect', z: 100, silent: true, shape: { x: 712, y: 593.5, width: 92, height: 17.5, r: 3 },
      style: { fill: 'rgba(255,255,255,0.8)', stroke: '#d0d0d0', lineWidth: 1 } },
    { type: 'circle', z: 101, silent: true, shape: { cx: 726.7, cy: 602.5, r: 3.6 }, style: { fill: '#000' } },
    { type: 'text', x: 745, y: 602.5, z: 101, silent: true, style: { text: '14.5 days', ...bold(10), verticalAlign: 'middle' } },

    // legend g
    { type: 'rect', z: 100, silent: true, shape: { x: 378.5, y: 673.5, width: 53, height: 41.5, r: 3 },
      style: { fill: 'rgba(255,255,255,0.8)', stroke: '#d0d0d0', lineWidth: 1 } },
    { type: 'line', z: 101, silent: true, shape: { x1: 383.5, y1: 684, x2: 408.5, y2: 684 }, style: { stroke: '#333333', lineWidth: 2 } },
    { type: 'line', z: 101, silent: true, shape: { x1: 383.5, y1: 702.5, x2: 408.5, y2: 702.5 }, style: { stroke: '#4d4dff', lineWidth: 2 } },
    { type: 'text', x: 416, y: 684, z: 101, silent: true, style: { text: 'b', fill: TXT, fontFamily: FONT, fontSize: 12, verticalAlign: 'middle' } },
    { type: 'text', x: 416, y: 702, z: 101, silent: true, style: { text: 'c', fill: TXT, fontFamily: FONT, fontSize: 12, verticalAlign: 'middle' } },
  ];

  return {
    animation: false,
    backgroundColor: '#ffffff',
    textStyle: { fontFamily: FONT },
    grid: grids,
    xAxis,
    yAxis,
    series,
    graphic,
  };
}

export default function App() {
  const ref = useRef<HTMLDivElement>(null);
  useEffect(() => {
    if (!ref.current) return;
    const chart = echarts.init(ref.current, null, { renderer: 'svg' });
    chart.setOption(buildOption() as any);
    return () => chart.dispose();
  }, []);
  return <div ref={ref} style={{ position: 'absolute', left: 0, top: 0, width: 882, height: 765 }} />;
}
